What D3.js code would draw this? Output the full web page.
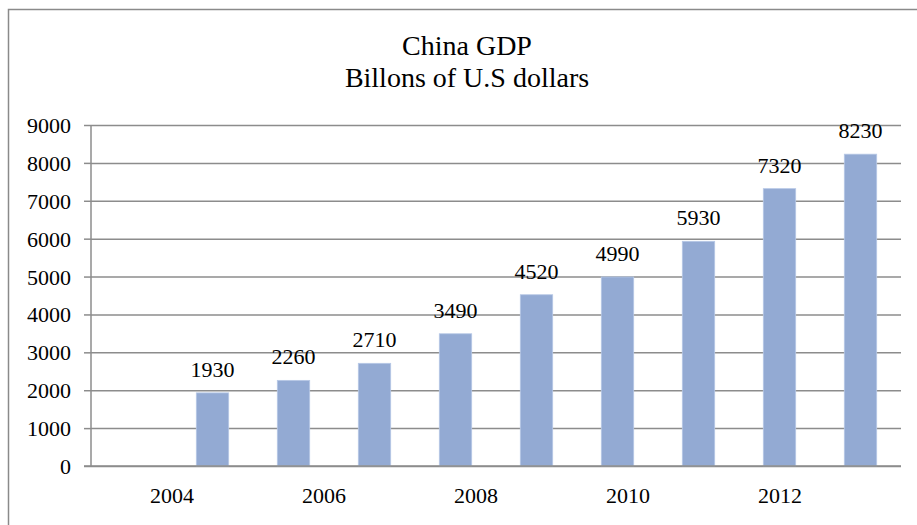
<!DOCTYPE html>
<html>
<head>
<meta charset="utf-8">
<script src="https://cdn.jsdelivr.net/npm/d3@7"></script>
<style>
  html, body { margin: 0; padding: 0; background: #fff; }
  svg { display: block; }
</style>
</head>
<body>
<svg id="chart" width="917" height="525"></svg>
<script>
// ---- data ----
const titleLines = ["China GDP", "Billons of U.S dollars"];
const categories = ["", "2004", "2005", "2006", "2007", "2008", "2009", "2010", "2011", "2012"];
const gdp = [null, 1930, 2260, 2710, 3490, 4520, 4990, 5930, 7320, 8230];
const xTickLabels = ["2004", "2006", "2008", "2010", "2012"];
const yTicks = [0, 1000, 2000, 3000, 4000, 5000, 6000, 7000, 8000, 9000];

// ---- layout ----
const W = 917, H = 525;
const FONT = "'Liberation Serif', 'Times New Roman', Tinos, 'Nimbus Roman', 'DejaVu Serif', serif";
const plot = { left: 91, right: 901, top: 125, bottom: 466 };
const gridColor = "#8c8c8c";
const barColor = "#93aad3";

const svg = d3.select("#chart");

svg.append("path")
  .attr("d", `M8.5,${H} L8.5,9.5 L${W},9.5`)
  .attr("fill", "none")
  .attr("stroke", "#8a8a8a")
  .attr("stroke-width", 1.5);

svg.append("g").selectAll("text").data(titleLines).join("text")
  .attr("x", 467)
  .attr("y", (d, i) => 55 + i * 32)
  .attr("text-anchor", "middle")
  .style("font-family", FONT)
  .style("font-size", "28px")
  .text(d => d);

const x = d3.scaleBand().domain(categories.map((c, i) => i))
  .range([plot.left, plot.right]).paddingInner(0.6).paddingOuter(0.3);
const y = d3.scaleLinear().domain([0, 9000]).range([plot.bottom, plot.top]);
const xLab = d3.scalePoint().domain(xTickLabels).range([172, 780]);

const yAxis = d3.axisLeft(y).tickValues(yTicks).tickSize(-(plot.right - plot.left)).tickPadding(13)
  .tickFormat(d3.format("d"));
const gy = svg.append("g").attr("transform", `translate(${plot.left},0)`).call(yAxis);
gy.attr("font-family", null).attr("font-size", null);
gy.select(".domain").remove();
gy.selectAll(".tick line").attr("stroke", gridColor).attr("stroke-width", 1.5);
gy.selectAll(".tick").append("line")
  .attr("x1", -7).attr("x2", 0).attr("stroke", gridColor).attr("stroke-width", 1.5);
gy.selectAll(".tick text")
  .style("font-family", FONT)
  .style("font-size", "22px")
  .attr("fill", "#000")
  .attr("dy", "0.34em")
  .attr("x", -20);
svg.append("line")
  .attr("x1", plot.left).attr("x2", plot.left)
  .attr("y1", y(9000)).attr("y2", y(0))
  .attr("stroke", gridColor).attr("stroke-width", 1.5);

const barData = gdp.map((v, i) => ({ i, v })).filter(d => d.v != null);
svg.append("g").selectAll("rect").data(barData).join("rect")
  .attr("x", d => x(d.i))
  .attr("width", x.bandwidth())
  .attr("y", d => y(d.v))
  .attr("height", d => y(0) - y(d.v))
  .attr("fill", barColor)
  .attr("stroke", "#b7c8e6")
  .attr("stroke-width", 0.8);

svg.append("line")
  .attr("x1", plot.left - 7).attr("x2", plot.right)
  .attr("y1", y(0)).attr("y2", y(0))
  .attr("stroke", gridColor).attr("stroke-width", 1.5);

svg.append("g").selectAll("text").data(barData).join("text")
  .attr("x", d => x(d.i) + x.bandwidth() / 2)
  .attr("y", d => y(d.v) - 16)
  .attr("text-anchor", "middle")
  .style("font-family", FONT)
  .style("font-size", "22px")
  .text(d => d.v);

svg.append("g").selectAll("text").data(xTickLabels).join("text")
  .attr("x", d => xLab(d))
  .attr("y", 503)
  .attr("text-anchor", "middle")
  .style("font-family", FONT)
  .style("font-size", "22px")
  .text(d => d);
</script>
</body>
</html>
